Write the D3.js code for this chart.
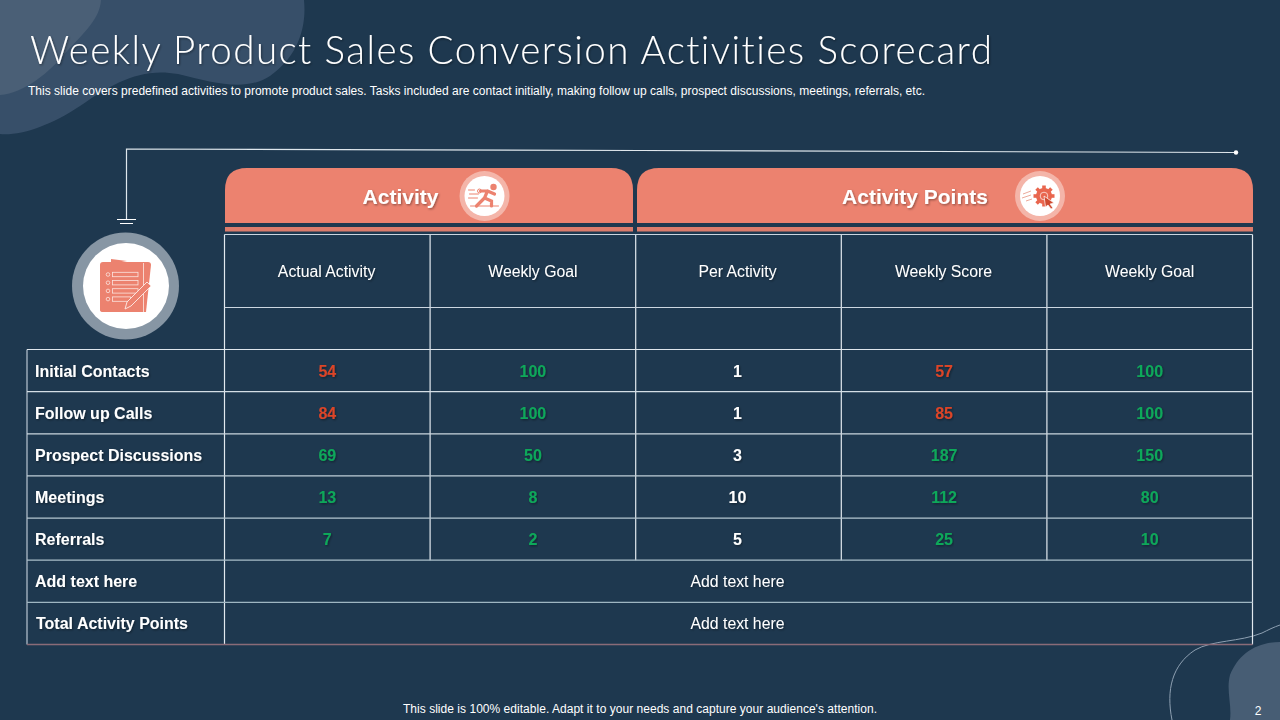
<!DOCTYPE html>
<html><head><meta charset="utf-8">
<script src="https://cdn.jsdelivr.net/npm/d3@7/dist/d3.min.js"></script>
<style>
html,body{margin:0;padding:0;background:#1e384f;overflow:hidden}
svg{display:block}
text{font-family:"Liberation Sans",Arial,sans-serif}
</style></head><body>
<svg id="c" width="1280" height="720"></svg>
<script>
const titleText="Weekly Product Sales Conversion Activities Scorecard";
const subtitleText="This slide covers predefined activities to promote product sales. Tasks included are contact initially, making follow up calls, prospect discussions, meetings, referrals, etc.";
const footerText="This slide is 100% editable. Adapt it to your needs and capture your audience's attention.";
const pageNumber="2";
const groupHeaders=["Activity","Activity Points"];
const columns=["Actual Activity","Weekly Goal","Per Activity","Weekly Score","Weekly Goal"];
const rowLabels=["Initial Contacts","Follow up Calls","Prospect Discussions","Meetings","Referrals"];
const actualActivity=[54,84,69,13,7];
const activityGoal=[100,100,50,8,2];
const perActivity=[1,1,3,10,5];
const weeklyScore=[57,85,187,112,25];
const scoreGoal=[100,100,150,80,10];
const footerRows=["Add text here","Total Activity Points"];
const footerValue="Add text here";

const BG="#1e384f",SAL="#ec826f",GREEN="#10a85a",RED="#dc4428";
const svg=d3.select("#c");
const defs=svg.append("defs");
const sh=defs.append("filter").attr("id","sh").attr("x","-5%").attr("y","-20%").attr("width","110%").attr("height","150%");
sh.append("feDropShadow").attr("dx",1).attr("dy",1.2).attr("stdDeviation",0.8).attr("flood-color","#000").attr("flood-opacity",0.4);

svg.append("rect").attr("width",1280).attr("height",720).attr("fill",BG);
svg.append("path").attr("fill","#39506a").attr("opacity",.95)
 .attr("d","M0,0 L304,0 C307,30 296,58 270,76 C245,92 215,83 178,74 C140,67 112,84 80,106 C50,126 20,136 0,134 Z");
svg.append("path").attr("fill","#4a5f76")
 .attr("d","M0,0 L101,0 C100,18 85,32 68,50 C50,72 25,93 0,95 Z");
svg.append("path").attr("fill","#475d74")
 .attr("d","M1280,642 C1255,642 1238,655 1230,675 C1226,690 1232,705 1230,720 L1280,720 Z");
svg.append("path").attr("fill","none").attr("stroke","#8ea0b2").attr("stroke-width",1)
 .attr("d","M1172,720 C1166,690 1172,665 1195,650 C1212,640 1240,642 1262,633 C1268,630 1274,627 1280,625");

svg.append("text").attr("x",30).attr("y",63.5).attr("fill","#fff").attr("font-size",38.5).attr("letter-spacing","1.44px")
 .style("font-family","Lato").style("font-weight",300).attr("filter","url(#sh)").text(titleText);
svg.append("text").attr("x",28).attr("y",94.5).attr("fill","#fff").attr("font-size",12).attr("textLength",897).attr("lengthAdjust","spacing").text(subtitleText);
svg.append("text").attr("x",640).attr("y",713).attr("fill","#fff").attr("font-size",12).attr("text-anchor","middle").attr("textLength",474).attr("lengthAdjust","spacing").text(footerText);
svg.append("text").attr("x",1258).attr("y",715).attr("fill","#fff").attr("font-size",12).attr("text-anchor","middle").text(pageNumber);

svg.append("path").attr("fill","none").attr("stroke","#dfe7ed").attr("stroke-width",1.2)
 .attr("d","M1236,152.5 L640,150.5 L126.5,149 L126.5,219");
svg.append("circle").attr("cx",1236).attr("cy",152.5).attr("r",2.2).attr("fill","#fff");
svg.append("path").attr("stroke","#fff").attr("stroke-width",1.2).attr("d","M117,219.5H136M120,223.5H133");

const xCol=d3.scaleBand().domain(d3.range(columns.length)).range([224.5,1252.5]);
const yRow=d3.scaleBand().domain(d3.range(rowLabels.length+footerRows.length)).range([349.5,644.5]);
const xL=27, hTop=234.5, hMid=307.5;
const lineH="#ccd6e0";

function tab(x0,x1){
 const y0=168,y1=223,r=22;
 svg.append("path").attr("fill",SAL).attr("d",`M${x0},${y1}V${y0+r}Q${x0},${y0} ${x0+r},${y0}H${x1-r}Q${x1},${y0} ${x1},${y0+r}V${y1}Z`);
 svg.append("rect").attr("x",x0).attr("y",227).attr("width",x1-x0).attr("height",4.5).attr("fill",SAL).attr("opacity",.92);
}
tab(225,633);tab(637,1253);
const groupPos=[{x:400.5,ix:484.5},{x:915,ix:1040}];
groupHeaders.forEach((g,i)=>{
 svg.append("text").attr("x",groupPos[i].x).attr("y",204).attr("text-anchor","middle").attr("fill","#fff").attr("font-size",21).attr("font-weight",700).attr("filter","url(#sh)").text(g);
 svg.append("circle").attr("cx",groupPos[i].ix).attr("cy",196).attr("r",25).attr("fill","#f4b5a9");
 svg.append("circle").attr("cx",groupPos[i].ix).attr("cy",196).attr("r",20).attr("fill","#fff");
});
const run=svg.append("g").attr("transform","translate(484.5,196)").attr("stroke",SAL).attr("fill","none").attr("stroke-linecap","round");
run.append("circle").attr("cx",9).attr("cy",-9).attr("r",3.2).attr("fill",SAL).attr("stroke","none");
run.append("path").attr("stroke-width",3.2).attr("d","M-8,10 L0,2 L3,-5 M3,-5 L-4,-5 M3,-5 L10,-2 M0,2 L7,5 L7,10");
run.append("path").attr("stroke-width",1).attr("d","M-16,-6H-10M-15,-2H-6M-16,2H-7M-14,10H14");
run.append("circle").attr("cx",-5).attr("cy",-5).attr("r",2).attr("stroke-width",1);

const gear=svg.append("g").attr("transform","translate(1044,196)");
d3.range(4).forEach(i=>gear.append("rect").attr("x",-1.8).attr("y",-10.5).attr("width",3.6).attr("height",21).attr("fill","#e9664e").attr("transform",`rotate(${i*45})`));
gear.append("circle").attr("r",8).attr("fill","#e9664e");
gear.append("circle").attr("r",3.8).attr("fill","none").attr("stroke","#fbd9d1").attr("stroke-width",.9);
gear.append("path").attr("d","M0,0L10,7L6,8L9,12L7,13L4,9L1.5,11Z").attr("fill","#cf4a30").attr("stroke","#fff").attr("stroke-width",.7);
gear.append("path").attr("d","M-21,-2L-13,-5M-22,2L-13,-1M-18,5L-12,3").attr("stroke","#e9a090").attr("stroke-width",.9).attr("fill","none");

svg.append("circle").attr("cx",125.5).attr("cy",286).attr("r",53.5).attr("fill","#8796a4");
svg.append("circle").attr("cx",126).attr("cy",286).attr("r",43).attr("fill","#fff");
const clip=svg.append("g");
clip.append("path").attr("fill",SAL).attr("d","M111,259L127,261L111,264Z");
clip.append("path").attr("fill",SAL).attr("d","M103,262Q100,262 100,265L100,310Q100,312 103,312L146,312L151,265Q151,262 148,262Z");
clip.append("path").attr("stroke","#f9d5cd").attr("stroke-width",1).attr("d","M143.5,263V312");
d3.range(4).forEach(i=>{
 const y=274.5+i*8.2;
 clip.append("circle").attr("cx",108).attr("cy",y).attr("r",1.8).attr("fill","none").attr("stroke","#fbe3de").attr("stroke-width",.8);
 clip.append("rect").attr("x",112.5).attr("y",y-2.2).attr("width",i==3?18:25.5).attr("height",4.4).attr("fill","none").attr("stroke","#fbe3de").attr("stroke-width",.8);
});
clip.append("path").attr("fill",SAL).attr("stroke","#fbe3de").attr("stroke-width",1).attr("d","M125,309L127,302L147,282L151,286L131,306Z");

const g=svg.append("g").attr("fill","none").attr("stroke-width",1.2);
const xs=[...xCol.domain().map(d=>xCol(d)),xCol.range()[1]];
const yBot=yRow.range()[1], nData=rowLabels.length;
xs.forEach((x,i)=>{
 const end=(i===0||i===xs.length-1)?yBot:yRow(nData);
 g.append("line").attr("x1",x).attr("x2",x).attr("y1",hTop).attr("y2",end).attr("stroke","#e2e9ef");
});
g.append("line").attr("x1",xL).attr("x2",xL).attr("y1",yRow(0)).attr("y2",yBot).attr("stroke","#b9c7d3");
[hTop,hMid].forEach(y=>g.append("line").attr("x1",224.5).attr("x2",1252.5).attr("y1",y).attr("y2",y).attr("stroke",lineH));
yRow.domain().forEach(i=>{
 g.append("line").attr("x1",xL).attr("x2",1252.5).attr("y1",yRow(i)).attr("y2",yRow(i))
  .attr("stroke",d3.interpolateRgb("#dfe6ec","#9fb6c2")(i/6));
});
g.append("line").attr("x1",xL).attr("x2",1252.5).attr("y1",yBot).attr("y2",yBot).attr("stroke","#8a6b78").attr("stroke-width",1.6);

columns.forEach((c,i)=>svg.append("text").attr("x",xCol(i)+xCol.bandwidth()/2+(i==0?-0.7:i==2?-1:i==3?-0.6:0)).attr("y",277).attr("text-anchor","middle")
 .attr("fill","#fff").attr("font-size",15.8).attr("filter","url(#sh)").text(c));

const lab=(t,y,x)=>svg.append("text").attr("x",x).attr("y",y).attr("fill","#fff").attr("font-size",16).attr("font-weight",700).attr("filter","url(#sh)").text(t);
const series=[actualActivity,activityGoal,perActivity,weeklyScore,scoreGoal];
const goalFor={0:1,3:4};
const rowY=i=>Math.round(yRow(i)+yRow.bandwidth()/2+6);
rowLabels.forEach((r,i)=>{
 const y=rowY(i);
 lab(r,y,35);
 series.forEach((s,c)=>{
  let col="#fff";
  if(c===0||c===3) col=s[i]>=series[goalFor[c]][i]?GREEN:RED;
  else if(c===1||c===4) col=GREEN;
  svg.append("text").attr("x",xCol(c)+xCol.bandwidth()/2+(c==2?-1:0)).attr("y",y).attr("text-anchor","middle").attr("fill",col)
   .attr("font-size",16).attr("font-weight",700).attr("filter","url(#sh)").text(s[i]);
 });
});
footerRows.forEach((r,i)=>{
 const y=rowY(nData+i);
 lab(r,y,i==1?36:35);
 svg.append("text").attr("x",737.5).attr("y",y).attr("text-anchor","middle").attr("fill","#fff").attr("font-size",15.8).attr("filter","url(#sh)").text(footerValue);
});
</script>
</body></html>
